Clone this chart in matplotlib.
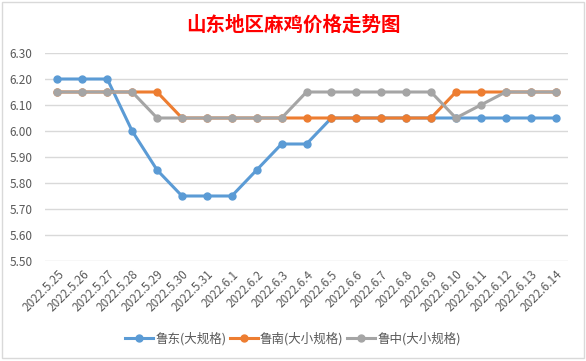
import matplotlib.pyplot as plt
from matplotlib.patches import Rectangle

plt.rcParams['font.family'] = ['Noto Sans CJK SC', 'DejaVu Sans']

# 데이터
dates = ['2022.5.25', '2022.5.26', '2022.5.27', '2022.5.28', '2022.5.29', '2022.5.30',
         '2022.5.31', '2022.6.1', '2022.6.2', '2022.6.3', '2022.6.4', '2022.6.5',
         '2022.6.6', '2022.6.7', '2022.6.8', '2022.6.9', '2022.6.10', '2022.6.11',
         '2022.6.12', '2022.6.13', '2022.6.14']
ludong = [6.20, 6.20, 6.20, 6.00, 5.85, 5.75, 5.75, 5.75, 5.85, 5.95, 5.95,
          6.05, 6.05, 6.05, 6.05, 6.05, 6.05, 6.05, 6.05, 6.05, 6.05]
lunan = [6.15, 6.15, 6.15, 6.15, 6.15, 6.05, 6.05, 6.05, 6.05, 6.05, 6.05,
         6.05, 6.05, 6.05, 6.05, 6.05, 6.15, 6.15, 6.15, 6.15, 6.15]
luzhong = [6.15, 6.15, 6.15, 6.15, 6.05, 6.05, 6.05, 6.05, 6.05, 6.05, 6.15,
           6.15, 6.15, 6.15, 6.15, 6.15, 6.05, 6.10, 6.15, 6.15, 6.15]
names = ['鲁东(大规格)', '鲁南(大小规格)', '鲁中(大小规格)']
colors = ['#5B9BD5', '#ED7D31', '#A5A5A5']

fig = plt.figure(figsize=(5.86, 3.61), dpi=100)
fig.patches.append(Rectangle((2 / 586, 1 - 358 / 361), 582 / 586, 356 / 361,
                             transform=fig.transFigure, fill=False,
                             edgecolor='#D9D9D9', linewidth=1))

ax = fig.add_axes([45 / 586, 1 - 261 / 361, 523 / 586, 208 / 361])
x = range(len(dates))
for vals, name, c in zip([ludong, lunan, luzhong], names, colors):
    ax.plot(x, vals, color=c, linewidth=2.2, marker='o', markersize=5, label=name)

ax.set_xlim(-0.5, len(dates) - 0.5)
ax.set_ylim(5.5, 6.3)
ax.set_yticks([5.5 + 0.1 * i for i in range(9)])
ax.set_yticklabels([f'{5.5 + 0.1 * i:.2f}' for i in range(9)])
ax.set_xticks(list(x))
ax.set_xticklabels(dates, rotation=45, ha='right', rotation_mode='anchor')
ax.tick_params(axis='both', length=0, labelsize=8.5, colors='#595959')
ax.tick_params(axis='x', pad=5)
ax.tick_params(axis='y', pad=9)
ax.grid(axis='y', color='#D9D9D9', linewidth=1)
ax.set_axisbelow(True)
for s in ax.spines.values():
    s.set_visible(False)

fig.text(0.5, 1 - 25 / 361, '山东地区麻鸡价格走势图', ha='center', va='center',
         color='red', fontsize=14, fontweight='bold')

fig.legend(loc='center', bbox_to_anchor=(0.5, 1 - 339 / 361), ncol=3, frameon=False,
           fontsize=9, labelcolor='#595959', handlelength=2.2, handletextpad=0.2,
           columnspacing=0.3)

fig.savefig('out.png', dpi=100)
